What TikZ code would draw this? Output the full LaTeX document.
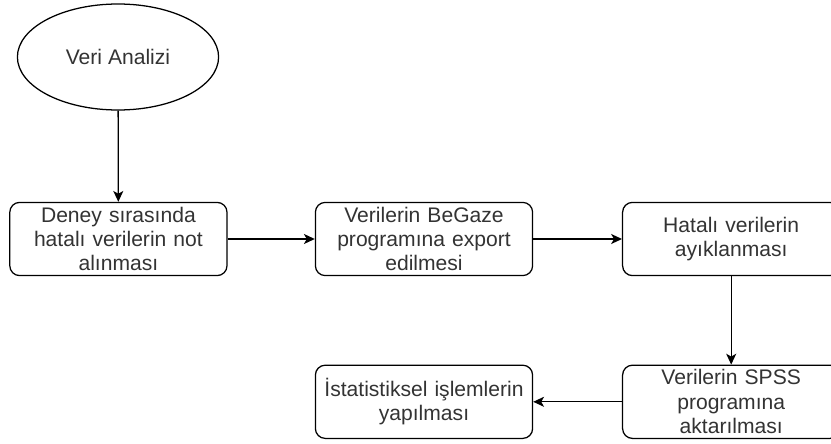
\documentclass[tikz,border=0pt]{standalone}
\usepackage{fontspec}
\setmainfont{Liberation Sans}
\usetikzlibrary{shapes.geometric, arrows.meta}

\begin{document}
\begin{tikzpicture}[
  every node/.style={font=\fontsize{15}{17.4}\selectfont, text=black!80},
  stepbox/.style={draw, rectangle, rounded corners=7pt, line width=0.9pt,
    minimum width=5.43cm, minimum height=1.83cm, inner sep=0pt,
    text width=5.3cm, align=center},
  flow/.style={-{Stealth[length=0.27cm, width=0.25cm, inset=0.07cm]}, line width=0.9pt}
]
\useasboundingbox (0,0) rectangle (20.775,11.075);
% Start
\node[draw, ellipse, line width=0.9pt, minimum width=5.03cm, minimum height=2.65cm, inner sep=0pt] (start) at (2.95,9.65) {Veri Analizi};

% Upper row
\node[stepbox] (note) at (2.96,5.1) {Deney sırasında\\hatalı verilerin not\\alınması};
\node[stepbox] (export) at (10.6,5.1) {Verilerin BeGaze\\programına export\\edilmesi};
\node[stepbox] (clean) at (18.28,5.1) {Hatalı verilerin\\ayıklanması};

% Lower row
\node[stepbox] (spss) at (18.28,1.03) {Verilerin SPSS\\programına\\aktarılması};
\node[stepbox] (stats) at (10.6,1.03) {İstatistiksel işlemlerin\\yapılması};

\draw[flow] (start) -- (note);
\draw[flow] (note) -- (export);
\draw[flow] (export) -- (clean);
\draw[flow] (clean) -- (spss);
\draw[flow] (spss) -- (stats);
\end{tikzpicture}
\end{document}
